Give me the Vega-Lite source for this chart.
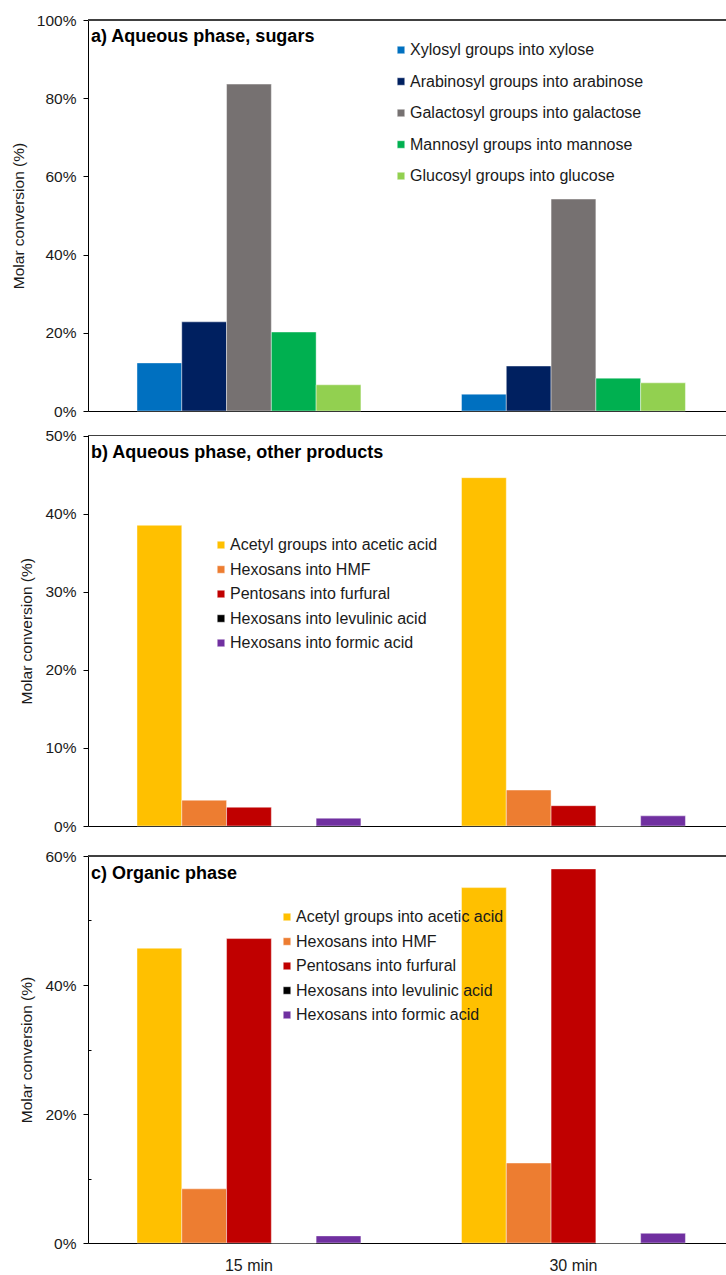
{
  "$schema": "https://vega.github.io/schema/vega-lite/v6.json",
  "padding": {"top": 13, "left": 11, "right": 0, "bottom": 0},
  "bounds": "flush",
  "spacing": 30,
  "config": {
    "font": "Liberation Sans",
    "view": {"stroke": null},
    "bar": {"stroke": "#ffffff", "strokeWidth": 0.6, "strokeOpacity": 0.7},
    "axis": {
      "labelFont": "Liberation Sans",
      "labelFontSize": 15.5,
      "labelColor": "#1a1a1a",
      "titleFont": "Liberation Sans",
      "titleFontSize": 15.5,
      "titleFontWeight": "normal",
      "titleColor": "#1a1a1a",
      "domainColor": "#000000",
      "tickColor": "#000000",
      "grid": false
    },
    "legend": {
      "labelFont": "Liberation Sans",
      "labelFontSize": 16,
      "labelColor": "#1a1a1a",
      "symbolType": "square",
      "symbolSize": 56,
      "symbolStrokeWidth": 0,
      "labelOffset": 1,
      "labelLimit": 0,
      "padding": 0,
      "title": null
    },
    "title": {
      "font": "Liberation Sans",
      "fontSize": 18,
      "fontWeight": "bold",
      "color": "#000000",
      "anchor": "start",
      "frame": "group"
    }
  },
  "datasets": {
    "sugars": [
      {"time": "15 min", "series": "Xylosyl groups into xylose", "value": 12.3},
      {"time": "15 min", "series": "Arabinosyl groups into arabinose", "value": 22.8},
      {"time": "15 min", "series": "Galactosyl groups into galactose", "value": 83.6},
      {"time": "15 min", "series": "Mannosyl groups into mannose", "value": 20.2},
      {"time": "15 min", "series": "Glucosyl groups into glucose", "value": 6.7},
      {"time": "30 min", "series": "Xylosyl groups into xylose", "value": 4.3},
      {"time": "30 min", "series": "Arabinosyl groups into arabinose", "value": 11.5},
      {"time": "30 min", "series": "Galactosyl groups into galactose", "value": 54.2},
      {"time": "30 min", "series": "Mannosyl groups into mannose", "value": 8.4},
      {"time": "30 min", "series": "Glucosyl groups into glucose", "value": 7.2}
    ],
    "aqueous": [
      {"time": "15 min", "series": "Acetyl groups into acetic acid", "value": 38.5},
      {"time": "15 min", "series": "Hexosans into HMF", "value": 3.3},
      {"time": "15 min", "series": "Pentosans into furfural", "value": 2.4},
      {"time": "15 min", "series": "Hexosans into levulinic acid", "value": 0},
      {"time": "15 min", "series": "Hexosans into formic acid", "value": 1.0},
      {"time": "30 min", "series": "Acetyl groups into acetic acid", "value": 44.6},
      {"time": "30 min", "series": "Hexosans into HMF", "value": 4.6},
      {"time": "30 min", "series": "Pentosans into furfural", "value": 2.6},
      {"time": "30 min", "series": "Hexosans into levulinic acid", "value": 0},
      {"time": "30 min", "series": "Hexosans into formic acid", "value": 1.3}
    ],
    "organic": [
      {"time": "15 min", "series": "Acetyl groups into acetic acid", "value": 45.7},
      {"time": "15 min", "series": "Hexosans into HMF", "value": 8.4},
      {"time": "15 min", "series": "Pentosans into furfural", "value": 47.2},
      {"time": "15 min", "series": "Hexosans into levulinic acid", "value": 0},
      {"time": "15 min", "series": "Hexosans into formic acid", "value": 1.1},
      {"time": "30 min", "series": "Acetyl groups into acetic acid", "value": 55.1},
      {"time": "30 min", "series": "Hexosans into HMF", "value": 12.4},
      {"time": "30 min", "series": "Pentosans into furfural", "value": 58.0},
      {"time": "30 min", "series": "Hexosans into levulinic acid", "value": 0},
      {"time": "30 min", "series": "Hexosans into formic acid", "value": 1.5}
    ]
  },
  "vconcat": [
    {
      "width": 638,
      "height": 391,
      "data": {"name": "sugars"},
      "title": {"text": "a) Aqueous phase, sugars", "offset": -33, "dx": 3},
      "layer": [
        {
          "mark": {"type": "bar"},
          "encoding": {
            "x": {
              "field": "time", "type": "nominal",
              "scale": {"paddingInner": 0.31, "paddingOuter": 0.138, "align": 0.547},
              "axis": {"title": null, "labels": false, "ticks": false}
            },
            "xOffset": {
              "field": "series", "type": "nominal",
              "sort": ["Xylosyl groups into xylose", "Arabinosyl groups into arabinose", "Galactosyl groups into galactose", "Mannosyl groups into mannose", "Glucosyl groups into glucose"],
              "scale": {"paddingInner": 0, "paddingOuter": 0}
            },
            "y": {
              "field": "value", "type": "quantitative",
              "scale": {"domain": [0, 100]},
              "axis": {
                "title": "Molar conversion (%)",
                "values": [0, 10, 20, 30, 40, 50, 60, 70, 80, 90, 100],
                "labelExpr": "datum.value % 20 === 0 ? datum.value + '%' : ''",
                "tickSize": {"condition": {"test": "datum.value % 20 === 0", "value": 5}, "value": -3},
                "labelPadding": 7,
                "titlePadding": 10
              }
            },
            "color": {
              "field": "series", "type": "nominal",
              "scale": {
                "domain": ["Xylosyl groups into xylose", "Arabinosyl groups into arabinose", "Galactosyl groups into galactose", "Mannosyl groups into mannose", "Glucosyl groups into glucose"],
                "range": ["#0070C0", "#002060", "#767171", "#00B050", "#92D050"]
              },
              "legend": {"orient": "none", "legendX": 305, "legendY": 22, "rowPadding": 15.5}
            }
          }
        },
        {
          "mark": {"type": "rule", "color": "#404040", "strokeWidth": 1},
          "encoding": {"y": {"datum": 100}}
        }
      ]
    },
    {
      "width": 638,
      "height": 385,
      "data": {"name": "aqueous"},
      "title": {"text": "b) Aqueous phase, other products", "offset": -33, "dx": 3},
      "layer": [
        {
          "mark": {"type": "bar"},
          "encoding": {
            "x": {
              "field": "time", "type": "nominal",
              "scale": {"paddingInner": 0.31, "paddingOuter": 0.138, "align": 0.547},
              "axis": {"title": null, "labels": false, "ticks": false}
            },
            "xOffset": {
              "field": "series", "type": "nominal",
              "sort": ["Acetyl groups into acetic acid", "Hexosans into HMF", "Pentosans into furfural", "Hexosans into levulinic acid", "Hexosans into formic acid"],
              "scale": {"paddingInner": 0, "paddingOuter": 0}
            },
            "y": {
              "field": "value", "type": "quantitative",
              "scale": {"domain": [0, 50], "range": [385, -5.5]},
              "axis": {
                "title": "Molar conversion (%)",
                "values": [0, 5, 10, 15, 20, 25, 30, 35, 40, 45, 50],
                "labelExpr": "datum.value % 10 === 0 ? datum.value + '%' : ''",
                "tickSize": {"condition": {"test": "datum.value % 10 === 0", "value": 5}, "value": -3},
                "labelPadding": 7,
                "titlePadding": 10
              }
            },
            "color": {
              "field": "series", "type": "nominal",
              "scale": {
                "domain": ["Acetyl groups into acetic acid", "Hexosans into HMF", "Pentosans into furfural", "Hexosans into levulinic acid", "Hexosans into formic acid"],
                "range": ["#FFC000", "#ED7D31", "#C00000", "#000000", "#7030A0"]
              },
              "legend": {"orient": "none", "legendX": 125, "legendY": 96, "rowPadding": 8.5}
            }
          }
        },
        {
          "mark": {"type": "rule", "color": "#404040", "strokeWidth": 1},
          "encoding": {"y": {"datum": 50}}
        }
      ]
    },
    {
      "width": 638,
      "height": 387,
      "data": {"name": "organic"},
      "title": {"text": "c) Organic phase", "offset": -34, "dx": 3},
      "layer": [
        {
          "mark": {"type": "bar"},
          "encoding": {
            "x": {
              "field": "time", "type": "nominal",
              "scale": {"paddingInner": 0.31, "paddingOuter": 0.138, "align": 0.547},
              "axis": {"title": null, "ticks": false, "labelAngle": 0, "labelPadding": 14, "labelFontSize": 16, "labelColor": "#1a1a1a"}
            },
            "xOffset": {
              "field": "series", "type": "nominal",
              "sort": ["Acetyl groups into acetic acid", "Hexosans into HMF", "Pentosans into furfural", "Hexosans into levulinic acid", "Hexosans into formic acid"],
              "scale": {"paddingInner": 0, "paddingOuter": 0}
            },
            "y": {
              "field": "value", "type": "quantitative",
              "scale": {"domain": [0, 60]},
              "axis": {
                "title": "Molar conversion (%)",
                "values": [0, 10, 20, 30, 40, 50, 60],
                "labelExpr": "datum.value % 20 === 0 ? datum.value + '%' : ''",
                "tickSize": {"condition": {"test": "datum.value % 20 === 0", "value": 5}, "value": -3},
                "labelPadding": 7,
                "titlePadding": 10
              }
            },
            "color": {
              "field": "series", "type": "nominal",
              "scale": {
                "domain": ["Acetyl groups into acetic acid", "Hexosans into HMF", "Pentosans into furfural", "Hexosans into levulinic acid", "Hexosans into formic acid"],
                "range": ["#FFC000", "#ED7D31", "#C00000", "#000000", "#7030A0"]
              },
              "legend": {"orient": "none", "legendX": 191, "legendY": 53, "rowPadding": 8.5}
            }
          }
        },
        {
          "mark": {"type": "rule", "color": "#404040", "strokeWidth": 1},
          "encoding": {"y": {"datum": 60}}
        }
      ]
    }
  ],
  "resolve": {"scale": {"color": "independent", "y": "independent", "xOffset": "independent"}}
}
